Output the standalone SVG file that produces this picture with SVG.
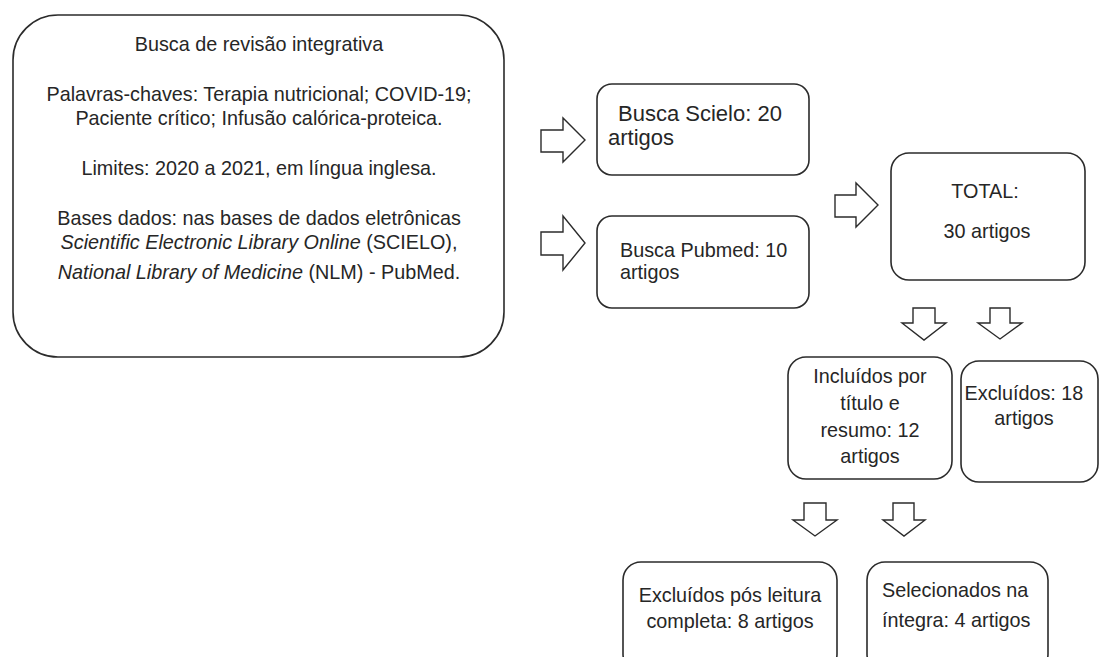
<svg xmlns="http://www.w3.org/2000/svg" width="1099" height="657" viewBox="0 0 1099 657">
<style>
.box{fill:#fff;stroke:#2b2b2b;stroke-width:1.6}
.arr{fill:#fff;stroke:#2b2b2b;stroke-width:1.4;stroke-linejoin:miter}
text{font-family:"Liberation Sans",Arial,sans-serif;font-size:19.8px;fill:#262626}
.c{text-anchor:middle}
.i{font-style:italic}
</style>
<rect width="1099" height="657" fill="#fff"/>
<g id="node-main">
<rect class="box" x="13" y="15" width="491" height="342" rx="45"/>
<text class="c" x="259" y="51">Busca de revisão integrativa</text>
<text class="c" x="259" y="101">Palavras-chaves: Terapia nutricional; COVID-19;</text>
<text class="c" x="259" y="125">Paciente crítico; Infusão calórica-proteica.</text>
<text class="c" x="259" y="175">Limites: 2020 a 2021, em língua inglesa.</text>
<text class="c" x="259" y="225">Bases dados: nas bases de dados eletrônicas</text>
<text class="c" x="259" y="249"><tspan class="i">Scientific Electronic Library Online</tspan> (SCIELO),</text>
<text class="c" x="259" y="279"><tspan class="i">National Library of Medicine</tspan> (NLM) - PubMed.</text>
</g>
<g id="node-scielo">
<rect class="box" x="597" y="84" width="212" height="91" rx="15"/>
<text x="618" y="121" style="font-size:22px">Busca Scielo: 20</text>
<text x="608" y="145" style="font-size:22px">artigos</text>
</g>
<g id="node-pubmed">
<rect class="box" x="597" y="216" width="212" height="92" rx="15"/>
<text x="620" y="257">Busca Pubmed: 10</text>
<text x="620" y="279">artigos</text>
</g>
<g id="node-total">
<rect class="box" x="891" y="153" width="194" height="127" rx="18"/>
<text class="c" x="985" y="198">TOTAL:</text>
<text class="c" x="987" y="238">30 artigos</text>
</g>
<g id="node-incluidos">
<rect class="box" x="788" y="357" width="164" height="122" rx="18"/>
<text class="c" x="870" y="383">Incluídos por</text>
<text class="c" x="870" y="410">título e</text>
<text class="c" x="870" y="437">resumo: 12</text>
<text class="c" x="870" y="463">artigos</text>
</g>
<g id="node-excluidos">
<rect class="box" x="961" y="361" width="137" height="121" rx="18"/>
<text class="c" x="1024" y="400">Excluídos: 18</text>
<text class="c" x="1024" y="425">artigos</text>
</g>
<g id="node-excluidos-leitura">
<rect class="box" x="623" y="562" width="214" height="110" rx="18"/>
<text class="c" x="730" y="602">Excluídos pós leitura</text>
<text class="c" x="730" y="628">completa: 8 artigos</text>
</g>
<g id="node-selecionados">
<rect class="box" x="867" y="562" width="181" height="110" rx="18"/>
<text x="882" y="597">Selecionados na</text>
<text x="882" y="627">íntegra: 4 artigos</text>
</g>
<g id="connectors">
<polygon class="arr" points="541,130 563,130 563,118 585,140 563,162 563,152 541,152"/>
<polygon class="arr" points="541,232 563,232 563,216 585,243 563,270 563,255 541,255"/>
<polygon class="arr" points="835,195 856,195 856,183 878,205 856,227 856,217 835,217"/>
<polygon class="arr" points="913,308 935,308 935,323 946,323 924,340 902,323 913,323"/>
<polygon class="arr" points="990,308 1010,308 1010,323 1022,323 1000,339 978,323 990,323"/>
<polygon class="arr" points="804,503 826,503 826,520 837,520 815,536 793,520 804,520"/>
<polygon class="arr" points="893,503 914,503 914,520 925,520 904,536 883,520 893,520"/>
</g>
</svg>
